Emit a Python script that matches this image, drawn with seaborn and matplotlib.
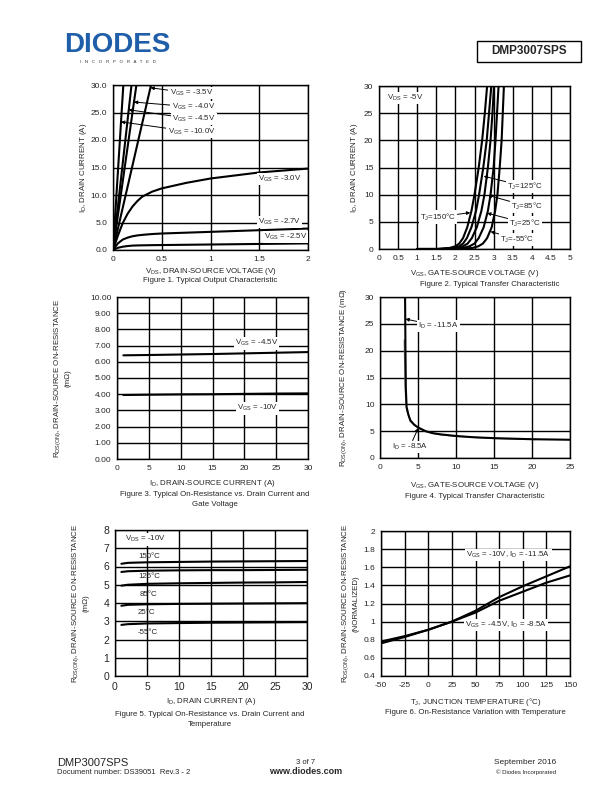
import matplotlib
matplotlib.use("Agg")
import matplotlib.pyplot as plt
import seaborn as sns
from matplotlib.patches import Rectangle

# ---- Figure 1: output characteristic ----
vds = [0, 0.05, 0.1, 0.15, 0.2, 0.25, 0.3, 0.4, 0.5, 0.75, 1.0, 1.5, 2.0]
id_vgs_25 = [0, 0.4, 0.6, 0.72, 0.8, 0.83, 0.85, 0.88, 0.9, 0.95, 1.0, 1.1, 1.2]
id_vgs_27 = [0, 1.2, 1.9, 2.25, 2.5, 2.65, 2.75, 2.9, 3.0, 3.15, 3.3, 3.6, 3.9]
id_vgs_30 = [0, 2.6, 4.9, 6.6, 7.9, 8.9, 9.7, 10.6, 11.2, 12.2, 13.0, 14.1, 14.8]
steep_id = [0, 30]
steep_vds = {"-10.0V": [0, 0.106], "-4.5V": [0, 0.19], "-4.0V": [0, 0.24], "-3.5V": [0, 0.39]}

# ---- Figure 2: transfer characteristic (V_GS read at each I_D) ----
id_pts = [0, 0, 0.2, 0.5, 1, 2, 4, 7, 10, 15, 20, 25, 30]
vgs_150 = [1.0, 1.5, 1.85, 2.0, 2.1, 2.2, 2.31, 2.42, 2.5, 2.61, 2.7, 2.77, 2.83]
vgs_125 = [1.0, 1.6, 1.95, 2.1, 2.2, 2.3, 2.42, 2.54, 2.62, 2.73, 2.82, 2.88, 2.94]
vgs_85 = [1.0, 1.7, 2.05, 2.2, 2.32, 2.43, 2.56, 2.68, 2.76, 2.85, 2.92, 2.97, 3.01]
vgs_25 = [1.0, 1.85, 2.2, 2.37, 2.5, 2.61, 2.74, 2.85, 2.92, 3.0, 3.05, 3.09, 3.13]
vgs_m55 = [1.0, 2.05, 2.45, 2.6, 2.72, 2.83, 2.95, 3.04, 3.1, 3.16, 3.21, 3.24, 3.27]

# ---- Figure 3: R_DS(on) vs I_D and V_GS ----
id3 = [1, 5, 10, 15, 20, 25, 30]
r_vgs45 = [6.4, 6.42, 6.45, 6.48, 6.52, 6.56, 6.6]
r_vgs10 = [3.95, 3.97, 3.99, 4.0, 4.02, 4.04, 4.05]

# ---- Figure 4: R_DS(on) vs V_GS ----
vgs4_a = [3.3, 3.35, 3.4, 3.5, 3.75, 4.0, 4.5, 5.0, 6.0, 7.0, 8.0, 10, 12.5, 15, 20, 25]
r_id115 = [30, 20, 13, 9.5, 8.0, 7.0, 6.2, 5.7, 5.0, 4.6, 4.4, 4.1, 3.85, 3.7, 3.5, 3.4]
vgs4_b = [3.2, 3.3, 3.4, 3.5, 4, 5, 6, 8, 10, 15, 20.5]
r_id85 = [22, 14, 10.5, 9, 6.8, 5.6, 4.95, 4.35, 4.05, 3.65, 3.45]

# ---- Figure 5: R_DS(on) vs I_D and temperature ----
id5 = [1, 2, 5, 10, 15, 20, 25, 30]
r_t150 = [6.15, 6.2, 6.23, 6.25, 6.27, 6.28, 6.29, 6.3]
r_t125 = [5.7, 5.74, 5.77, 5.79, 5.8, 5.8, 5.81, 5.82]
r_t85 = [4.95, 5.0, 5.05, 5.08, 5.1, 5.12, 5.13, 5.15]
r_t25 = [3.85, 3.9, 3.93, 3.95, 3.96, 3.97, 3.98, 3.99]
r_tm55 = [2.8, 2.84, 2.88, 2.9, 2.92, 2.93, 2.94, 2.95]

# ---- Figure 6: normalized R_DS(on) vs T_J ----
tj = [-50, -25, 0, 25, 50, 75, 100, 125, 150]
norm_vgs10 = [0.76, 0.83, 0.91, 1.0, 1.12, 1.27, 1.39, 1.5, 1.61]
norm_vgs45 = [0.78, 0.84, 0.91, 1.0, 1.1, 1.23, 1.33, 1.43, 1.51]

sns.set_style("white")
plt.rcParams["font.family"] = ["Liberation Sans", "DejaVu Sans"]
plt.rcParams["mathtext.fontset"] = "custom"
plt.rcParams["mathtext.rm"] = "Liberation Sans"
plt.rcParams["mathtext.it"] = "Liberation Sans:italic"
plt.rcParams["mathtext.bf"] = "Liberation Sans:bold"

W, H = 612, 792
fig = plt.figure(figsize=(6.12, 7.92), dpi=100)

FS = 5.7
TFS = 6
DEG = "\u00b0C"
BOX = dict(facecolor="white", edgecolor="none", pad=0.8)
ARROW = dict(arrowstyle="-|>", color="black", lw=0.7, mutation_scale=5, shrinkA=0, shrinkB=0)


def make_axes(left, top, right, bottom):
    return fig.add_axes([left / W, 1 - bottom / H, (right - left) / W, (bottom - top) / H])


def style(ax, xlim, ylim, xticks, yticks, xfmt, yfmt, xlabel, ylabel, ylab_x, xlab_y, tfs=TFS):
    ax.set_xlim(*xlim)
    ax.set_ylim(*ylim)
    ax.set_xticks(xticks)
    ax.set_yticks(yticks)
    ax.set_xticklabels([xfmt(v) for v in xticks], fontsize=tfs)
    ax.set_yticklabels([yfmt(v) for v in yticks], fontsize=tfs)
    ax.tick_params(length=0, pad=4)
    ax.grid(True, color="black", lw=1.0)
    ax.set_axisbelow(True)
    for s in ax.spines.values():
        s.set_color("black")
        s.set_linewidth(1.0)
    ax.set_xlabel(xlabel, fontsize=FS)
    ax.set_ylabel(ylabel, fontsize=FS, linespacing=1.3)
    ax.yaxis.set_label_coords(ylab_x, 0.5)
    ax.xaxis.set_label_coords(0.5, xlab_y)


def line(ax, x, y, color="black", lw=1.5):
    sns.lineplot(x=x, y=y, ax=ax, color=color, lw=lw, sort=False, estimator=None)


def caption(x, y, s):
    fig.text(x / W, 1 - y / H, s, ha="center", va="center", fontsize=FS)


g = lambda v: f"{v:g}"

# Figure 1
ax1 = make_axes(113, 85, 308, 250)
line(ax1, vds, id_vgs_25)
line(ax1, vds, id_vgs_27)
line(ax1, vds, id_vgs_30)
for k in steep_vds:
    line(ax1, steep_vds[k], steep_id)
style(ax1, (0, 2), (0, 30), [0, 0.5, 1, 1.5, 2], [0, 5, 10, 15, 20, 25, 30], g,
      lambda v: f"{v:.1f}", "V$_{\\mathrm{DS}}$, DRAIN-SOURCE VOLTAGE (V)",
      "I$_{\\mathrm{D}}$, DRAIN CURRENT (A)", -0.125, -0.095)
for lab, tip, txt in [("-3.5V", (0.384, 29.5), (0.58, 28.5)),
                      ("-4.0V", (0.215, 26.9), (0.6, 26.0)),
                      ("-4.5V", (0.16, 25.5), (0.61, 23.8)),
                      ("-10.0V", (0.082, 23.3), (0.56, 21.5))]:
    ax1.annotate("V$_{\\mathrm{GS}}$ = " + lab, xy=tip, xytext=txt, fontsize=FS, va="center",
                 ha="left", bbox=BOX, arrowprops=ARROW, zorder=5)
for lab, pos in [("-3.0V", (1.49, 12.9)), ("-2.7V", (1.49, 5.1)), ("-2.5V", (1.55, 2.4))]:
    ax1.text(*pos, "V$_{\\mathrm{GS}}$ = " + lab, fontsize=FS, va="center", bbox=BOX, zorder=5)
caption(210, 281, "Figure 1. Typical Output Characteristic")

# Figure 2
ax2 = make_axes(379, 86, 570, 249)
for v in [vgs_150, vgs_125, vgs_85, vgs_25, vgs_m55]:
    line(ax2, v, id_pts)
style(ax2, (0, 5), (0, 30), [0, 0.5, 1, 1.5, 2, 2.5, 3, 3.5, 4, 4.5, 5], [0, 5, 10, 15, 20, 25, 30],
      g, g, "V$_{\\mathrm{GS}}$, GATE-SOURCE VOLTAGE (V)", "I$_{\\mathrm{D}}$, DRAIN CURRENT (A)",
      -0.1, -0.115)
ax2.text(0.2, 27.8, "V$_{\\mathrm{DS}}$ = -5V", fontsize=FS, va="center", bbox=BOX, zorder=5)
for lab, tip, txt in [("125", (2.74, 13.4), (3.36, 11.5)),
                      ("85", (2.85, 9.9), (3.45, 7.9)),
                      ("25", (2.83, 6.6), (3.4, 4.8)),
                      ("-55", (2.92, 3.2), (3.18, 1.8)),
                      ("150", (2.39, 6.7), (1.08, 5.9))]:
    ax2.annotate("T$_{\\mathrm{J}}$=" + lab + DEG, xy=tip, xytext=txt, fontsize=FS, va="center",
                 ha="left", bbox=BOX, arrowprops=ARROW, zorder=5)
caption(490, 285, "Figure 2. Typical Transfer Characteristic")

# Figure 3
ax3 = make_axes(117, 297, 308, 459)
line(ax3, id3, r_vgs45)
line(ax3, id3, r_vgs10)
style(ax3, (0, 30), (0, 10), [0, 5, 10, 15, 20, 25, 30], list(range(11)), g,
      lambda v: f"{v:.2f}", "I$_{\\mathrm{D}}$, DRAIN-SOURCE CURRENT (A)",
      "R$_{\\mathrm{DS(ON)}}$, DRAIN-SOURCE ON-RESISTANCE\n(m\u03a9)", -0.24, -0.12)
ax3.text(18.5, 7.14, "V$_{\\mathrm{GS}}$ = -4.5V", fontsize=FS, va="center", bbox=BOX, zorder=5)
ax3.text(18.8, 3.13, "V$_{\\mathrm{GS}}$ = -10V", fontsize=FS, va="center", bbox=BOX, zorder=5)
caption(215, 494, "Figure 3. Typical On-Resistance vs. Drain Current and")
caption(215, 504, "Gate Voltage")

# Figure 4
ax4 = make_axes(380, 297, 570, 458)
line(ax4, vgs4_b, r_id85, color="#777777", lw=1.0)
line(ax4, vgs4_a, r_id115)
style(ax4, (0, 25), (0, 30), [0, 5, 10, 15, 20, 25], [0, 5, 10, 15, 20, 25, 30], g, g,
      "V$_{\\mathrm{GS}}$, GATE-SOURCE VOLTAGE (V)",
      "R$_{\\mathrm{DS(ON)}}$, DRAIN-SOURCE ON-RESISTANCE (m\u03a9)", -0.165, -0.135)
ax4.annotate("I$_{\\mathrm{D}}$ = -11.5A", xy=(3.35, 25.9), xytext=(5.0, 24.6), fontsize=FS,
             va="center", bbox=BOX, arrowprops=ARROW, zorder=5)
ax4.annotate("I$_{\\mathrm{D}}$ = -8.5A", xy=(5.04, 5.6), xytext=(1.54, 2.1), fontsize=FS,
             va="center", bbox=BOX, arrowprops=ARROW, zorder=5)
caption(475, 497, "Figure 4. Typical Transfer Characteristic")

# Figure 5
ax5 = make_axes(115, 530, 307, 676)
for r in [r_t150, r_t125, r_t85, r_t25, r_tm55]:
    line(ax5, id5, r)
style(ax5, (0, 30), (0, 8), [0, 5, 10, 15, 20, 25, 30], list(range(9)), g, g,
      "I$_{\\mathrm{D}}$, DRAIN CURRENT (A)",
      "R$_{\\mathrm{DS(ON)}}$, DRAIN-SOURCE ON-RESISTANCE\n(m\u03a9)", -0.135, -0.136, tfs=7.5)
ax5.text(1.56, 7.49, "V$_{\\mathrm{DS}}$ = -10V", fontsize=FS, va="center", bbox=BOX, zorder=5)
for lab, pos in [("150", (3.6, 6.54)), ("125", (3.6, 5.44)), ("85", (3.9, 4.47)),
                 ("25", (3.6, 3.47)), ("-55", (3.6, 2.39))]:
    ax5.text(*pos, lab + DEG, fontsize=FS, va="center", zorder=5)
caption(210, 714, "Figure 5. Typical On-Resistance vs. Drain Current and")
caption(210, 724, "Temperature")

# Figure 6
ax6 = make_axes(381, 531, 570, 676)
line(ax6, tj, norm_vgs10)
line(ax6, tj, norm_vgs45)
style(ax6, (-50, 150), (0.4, 2), [-50, -25, 0, 25, 50, 75, 100, 125, 150],
      [0.4, 0.6, 0.8, 1.0, 1.2, 1.4, 1.6, 1.8, 2.0], g, lambda v: f"{round(v, 1):g}",
      "T$_{\\mathrm{J}}$, JUNCTION TEMPERATURE (" + DEG + ")",
      "R$_{\\mathrm{DS(ON)}}$, DRAIN-SOURCE ON-RESISTANCE\n(NORMALIZED)", -0.115, -0.136)
ax6.text(40.4, 1.735, "V$_{\\mathrm{GS}}$ = -10V, I$_{\\mathrm{D}}$ = -11.5A", fontsize=FS,
         va="center", bbox=BOX, zorder=5)
ax6.text(38.6, 0.963, "V$_{\\mathrm{GS}}$ = -4.5V, I$_{\\mathrm{D}}$ = -8.5A", fontsize=FS,
         va="center", bbox=BOX, zorder=5)
caption(475, 712, "Figure 6. On-Resistance Variation with Temperature")

# header
fig.text(64 / W, 1 - 45 / H, "DIODES", fontsize=20, fontweight="heavy", color="#1f5ea8",
         va="center", ha="left")
fig.text(118 / W, 1 - 62 / H, "I   N   C   O   R   P   O   R   A   T   E   D", fontsize=3.2,
         color="#333333", ha="center", va="center")
fig.patches.append(Rectangle((477 / W, 1 - 62 / H), 104 / W, 21 / H, transform=fig.transFigure,
                             fill=False, edgecolor="black", lw=1.0))
fig.text(529 / W, 1 - 51.5 / H, "DMP3007SPS", fontsize=8.5, fontweight="bold", ha="center", va="center")

# footer
fig.text(57 / W, 1 - 763 / H, "DMP3007SPS", fontsize=8, va="center")
fig.text(57 / W, 1 - 773 / H, "Document number: DS39051  Rev.3 - 2", fontsize=5.5, va="center")
fig.text(306 / W, 1 - 763 / H, "3 of 7", fontsize=5.5, ha="center", va="center")
fig.text(306 / W, 1 - 772 / H, "www.diodes.com", fontsize=6.5, fontweight="bold", ha="center", va="center")
fig.text(556 / W, 1 - 763 / H, "September 2016", fontsize=6, ha="right", va="center")
fig.text(556 / W, 1 - 772 / H, "\u00a9 Diodes Incorporated", fontsize=4.3, ha="right", va="center")

fig.savefig("out.png", dpi=100)
